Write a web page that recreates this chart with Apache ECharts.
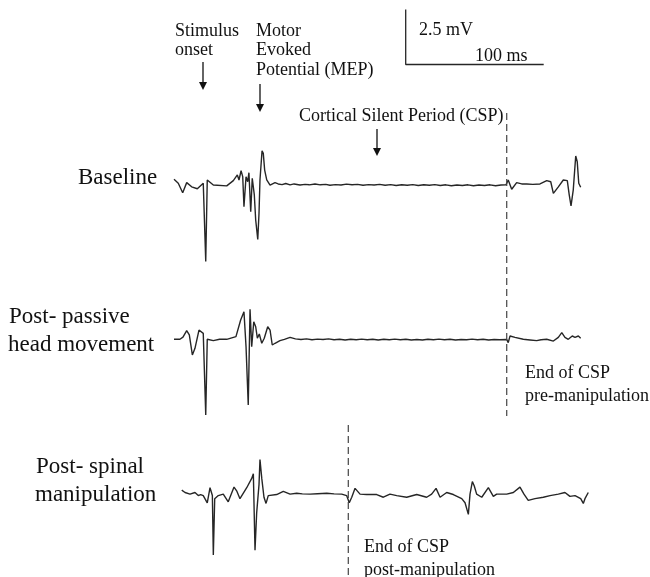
<!DOCTYPE html>
<html>
<head>
<meta charset="utf-8">
<script src="https://cdn.jsdelivr.net/npm/echarts@6/dist/echarts.min.js"></script>
<style>html,body{margin:0;padding:0;background:#fff}#chart{width:650px;height:577px}</style>
</head>
<body>
<div id="chart"></div>
<script>
// ---- data: time (ms, from trace start) , amplitude (mV) ----
var baselineTrace = [
 [0,0.19],[3.1,0.01],[6.3,-0.42],[9.2,0.04],[12.8,-0.15],[16.9,-0.24],[21.2,0.01],[22.5,0.07],[23.0,-3.55],[24.1,0.16],
 [28.5,-0.07],[38.2,-0.11],[43.0,0.13],[45.9,0.39],[47.1,0.16],[48.6,0.58],[49.8,0.31],[50.7,-1.05],[52.2,0.31],[53.4,0.08],
 [54.3,0.49],[55.6,-1.28],[56.7,0.24],[58.2,-0.52],[59.2,-1.66],[60.7,-2.54],[61.6,-1.35],[62.3,0.16],[63.8,1.49],[64.7,1.37],
 [65.7,0.61],[67.2,0.16],[69.6,-0.07],[73.2,0.04],[75.5,-0.02],[78.3,-0.05],[81,0.0],[84.1,-0.06],[87,-0.02],[91.3,-0.07],
 [95,-0.04],[98,-0.06],[102.2,-0.02],[106,-0.06],[110,-0.04],[113,-0.08],[117,-0.05],[121,-0.07],[125,-0.03],[129,-0.06],
 [133,-0.04],[137,-0.08],[141,-0.05],[145,-0.07],[149,-0.04],[153,-0.08],[157,-0.05],[161,-0.09],[165,-0.06],[169,-0.08],
 [173,-0.05],[177,-0.09],[181,-0.06],[185,-0.08],[189,-0.05],[193,-0.09],[197,-0.06],[201,-0.1],[205,-0.07],[209,-0.09],
 [213,-0.06],[217,-0.1],[221,-0.07],[225,-0.09],[229,-0.06],[233,-0.1],[237,-0.07],[240.6,-0.06],[242.2,0.16],[244.7,-0.26],
 [248.3,0.04],[252,-0.02],[255.6,-0.02],[260,-0.04],[265.2,-0.02],[270.1,0.13],[273.0,0.08],[274.9,-0.45],[278.5,-0.15],[282.1,0.16],
 [285.0,0.13],[286.4,-0.52],[287.7,-1.02],[289.3,-0.30],[291.1,1.25],[292.2,0.99],[293.3,0.01],[294.7,-0.17]
];
var passiveTrace = [
 [0,0],[4.3,0],[6.5,0.10],[9.2,0.39],[11.1,0.20],[13.3,-0.71],[15.2,-0.41],[18.1,0.42],[21.2,0.27],[22.5,0.20],
 [23.0,-3.44],[24.1,0],[28.5,-0.06],[33,0.0],[38.2,0],[44.9,0.12],[48.3,0.88],[50.7,1.25],[52.2,-0.34],[53.8,-2.99],
 [55.1,1.36],[56.3,-0.34],[57.8,0.80],[59.2,0.57],[60.4,0.05],[61.8,0.24],[63.6,-0.18],[65.4,0.05],[67.9,0.57],[69.6,0.42],
 [71.2,-0.26],[73.2,-0.18],[76.8,-0.06],[80,0.0],[84.1,0.09],[88,0.02],[92,-0.01],[96,0.02],[100,-0.02],[104,0.01],
 [108,-0.01],[112,0.02],[116,-0.02],[120,0.0],[124,-0.03],[128,0.0],[132,-0.02],[136,0.01],[140,-0.02],[144,0.0],
 [148,-0.03],[152,0.0],[156,-0.02],[160,0.01],[164,-0.02],[168,0.0],[172,-0.03],[176,-0.01],[180,-0.03],[184,0.0],
 [188,-0.02],[192,0.01],[196,-0.02],[200,0.0],[204,-0.03],[208,-0.01],[212,-0.02],[216,0.01],[220,-0.02],[224,0.0],
 [228,-0.03],[232,-0.01],[236,-0.02],[241.1,-0.01],[242.2,-0.15],[243.5,0.15],[247.1,0.09],[253.1,0],[258,-0.03],[262.8,-0.06],
 [266,-0.02],[270.1,0],[274.9,-0.08],[278.5,0.09],[281.0,0.30],[283.3,0.09],[285.7,0],[288.6,0.15],[290.6,0.09],[293.0,0.15],[294.7,0.05]
];
var spinalTrace = [
 [5.6,0.20],[8.0,0.09],[11.6,0.01],[15.2,0.09],[17.6,-0.06],[19.3,-0.01],[21.2,-0.06],[24.1,-0.41],[26.1,0.32],[27.8,-0.06],
 [28.5,-2.94],[29.5,-0.21],[32.1,-0.06],[35.7,0.01],[39.3,-0.36],[43.5,0.35],[45.4,0.17],[47.8,-0.21],[52.7,0.32],[56.3,0.77],
 [57.5,1.00],[58.7,-2.71],[59.9,-0.90],[61.6,0.47],[62.3,1.68],[63.6,0.77],[65.2,-0.14],[66.7,-0.44],[68.3,-0.06],[74.4,-0.01],
 [79.2,0.14],[84.1,0.01],[88.9,0.05],[93,0.02],[98.6,0.01],[104,0.03],[110.7,0.05],[116,0.02],[121.5,0.01],[125.1,-0.06],
 [127.0,-0.41],[128.8,-0.14],[131.2,0.29],[134.8,0.01],[139.6,-0.01],[146.9,-0.01],[151.7,-0.14],[156.5,0.01],[161.4,-0.06],[168.6,-0.14],
 [175.9,-0.01],[183.1,-0.14],[186.7,0.01],[189.9,0.29],[192.8,-0.14],[197.6,0.09],[202.4,-0.01],[208.5,-0.21],[210.9,-0.41],[213.3,-0.97],
 [214.5,0.01],[216.2,0.62],[217.6,0.40],[219.3,0.01],[223.0,-0.14],[227.8,0.32],[231.4,-0.10],[233.8,0.01],[241.1,0.01],[245.9,0.09],
 [250.7,0.35],[253.6,0.01],[256.7,-0.29],[261.6,-0.21],[267.6,-0.14],[272.5,-0.06],[278.5,0.01],[283.3,0.09],[286.9,-0.10],[290.6,-0.06],
 [294.7,-0.21],[296.6,-0.44],[297.8,-0.21],[300.2,0.09]
];
var traceNames = ['Baseline', 'Post- passive head movement', 'Post- spinal manipulation'];
var cspEndPre = 241.1;   // ms
var cspEndPost = 126.3;  // ms
var scaleBarMs = 100;
var scaleBarMv = 2.5;

// ---- layout ----
var PX_PER_MS = 1.38, PX_PER_MV = 22, W = 650, H = 577, X0 = 174;
var xMin = -X0 / PX_PER_MS, xMax = (W - X0) / PX_PER_MS;
var baselines = [183.5, 339.3, 497];
var vTop = 2, vBot = -4;
var ink = '#262626';
var serif = '"Liberation Serif","DejaVu Serif",serif';

var grids = [], xAxes = [], yAxes = [], series = [];
var traces = [baselineTrace, passiveTrace, spinalTrace];
baselines.forEach(function (b, i) {
  grids.push({ left: 0, width: W, top: b - vTop * PX_PER_MV, height: (vTop - vBot) * PX_PER_MV });
  xAxes.push({ type: 'value', gridIndex: i, min: xMin, max: xMax, show: false });
  yAxes.push({ type: 'value', gridIndex: i, min: vBot, max: vTop, show: false });
  series.push({ type: 'line', name: traceNames[i], xAxisIndex: i, yAxisIndex: i, data: traces[i],
    showSymbol: false, symbol: 'none', lineStyle: { color: ink, width: 1.4 }, silent: true });
});
// overlay grid covering whole canvas, same ms scale, mV measured from the bottom edge
grids.push({ left: 0, width: W, top: 0, height: H });
xAxes.push({ type: 'value', gridIndex: 3, min: xMin, max: xMax, show: false });
yAxes.push({ type: 'value', gridIndex: 3, min: 0, max: H / PX_PER_MV, show: false });
function yv(px) { return (H - px) / PX_PER_MV; }
var dashStyle = { color: '#444', width: 1.2, type: [7, 4] };
series.push({ type: 'line', xAxisIndex: 3, yAxisIndex: 3, symbol: 'none', silent: true,
  data: [[cspEndPre, yv(113)], [cspEndPre, yv(416)]], lineStyle: dashStyle });
series.push({ type: 'line', xAxisIndex: 3, yAxisIndex: 3, symbol: 'none', silent: true,
  data: [[cspEndPost, yv(425)], [cspEndPost, yv(577)]], lineStyle: dashStyle });
var sbX = (405.7 - X0) / PX_PER_MS, sbY = yv(64.5);
series.push({ type: 'line', xAxisIndex: 3, yAxisIndex: 3, symbol: 'none', silent: true,
  data: [[sbX, sbY + scaleBarMv], [sbX, sbY], [sbX + scaleBarMs, sbY]], lineStyle: { color: ink, width: 1.3 } });

function txt(s, x, y, size) {
  return { type: 'text', x: x, y: y, style: { text: s, font: size + 'px ' + serif, fill: '#111',
    verticalAlign: 'middle', align: 'left' } };
}
function arrow(x, y1, y2) {
  return { type: 'group', children: [
    { type: 'line', shape: { x1: x, y1: y1, x2: x, y2: y2 - 6 }, style: { stroke: '#111', lineWidth: 1.3 } },
    { type: 'polygon', shape: { points: [[x - 4, y2 - 8], [x + 4, y2 - 8], [x, y2]] }, style: { fill: '#111' } }
  ]};
}
var A = 18, L = 23;
var graphic = [
  txt('Stimulus', 175, 31, A), txt('onset', 175, 50, A),
  txt('Motor', 256, 31, A), txt('Evoked', 256, 50, A), txt('Potential (MEP)', 256, 70, A),
  txt('2.5 mV', 419, 30, A), txt('100 ms', 475, 56, A),
  txt('Cortical Silent Period (CSP)', 299, 116, A),
  txt('End of CSP', 525, 373, A), txt('pre-manipulation', 525, 396, A),
  txt('End of CSP', 364, 547, A), txt('post-manipulation', 364, 570, A),
  txt('Baseline', 78, 178, L),
  txt('Post- passive', 9, 317, L), txt('head movement', 8, 345, L),
  txt('Post- spinal', 36, 467, L), txt('manipulation', 35, 495, L),
  arrow(203, 62, 90), arrow(260, 84, 112), arrow(377, 129, 156)
];

var chart = echarts.init(document.getElementById('chart'), null, { renderer: 'canvas' });
chart.setOption({
  animation: false,
  backgroundColor: '#fff',
  grid: grids, xAxis: xAxes, yAxis: yAxes, series: series, graphic: graphic
});
</script>
</body>
</html>
